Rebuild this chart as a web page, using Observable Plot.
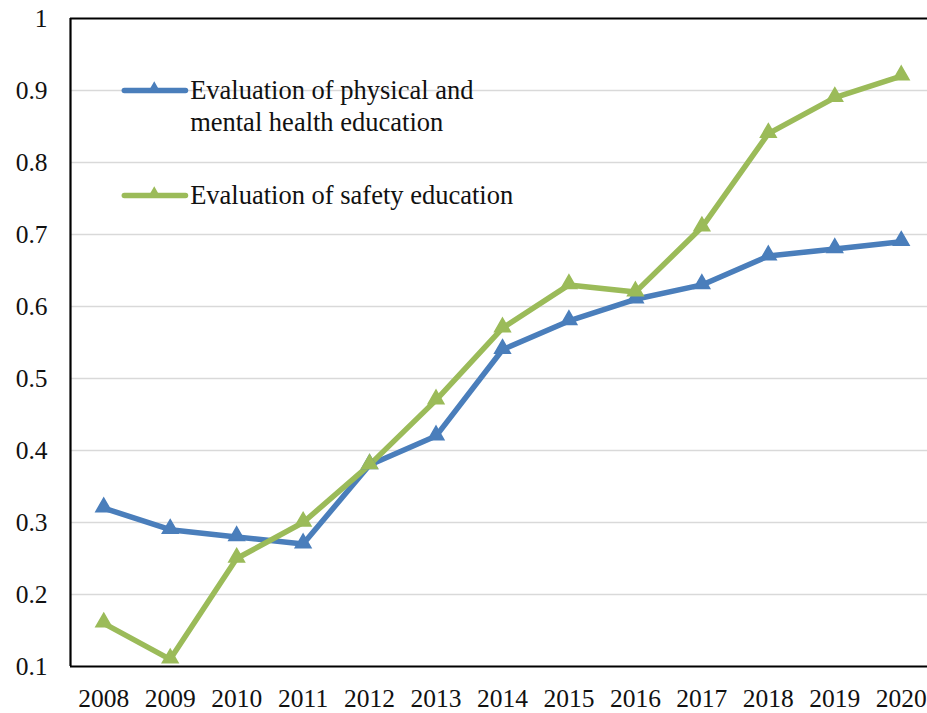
<!DOCTYPE html>
<html>
<head>
<meta charset="utf-8">
<script src="https://cdn.jsdelivr.net/npm/d3@7"></script>
<script src="https://cdn.jsdelivr.net/npm/@observablehq/plot@0.6"></script>
<style>
  html, body { margin: 0; padding: 0; background: #fff; }
  #chart svg { display: block; }
</style>
</head>
<body>
<div id="chart"></div>
<script>
// Survey years on the horizontal axis
const years = [2008, 2009, 2010, 2011, 2012, 2013, 2014, 2015, 2016, 2017, 2018, 2019, 2020];

// Evaluation scores per year
const physicalMentalHealth = [0.32, 0.29, 0.28, 0.27, 0.38, 0.42, 0.54, 0.58, 0.61, 0.63, 0.67, 0.68, 0.69];
const safetyEducation      = [0.16, 0.11, 0.25, 0.30, 0.38, 0.47, 0.57, 0.63, 0.62, 0.71, 0.84, 0.89, 0.92];

// Axis tick values
const yTicks = [0.1, 0.2, 0.3, 0.4, 0.5, 0.6, 0.7, 0.8, 0.9, 1];
const gridTicks = [0.2, 0.3, 0.4, 0.5, 0.6, 0.7, 0.8, 0.9];

// Series names and colours
const seriesNames = ["Evaluation of physical and\nmental health education", "Evaluation of safety education"];
const seriesColors = ["#4a7ebb", "#9bbb59"];

const FONT = "Liberation Serif";
const X0 = 2007.5;   // left edge of the first year band
const Y0 = 0.1;      // bottom of the value axis

const rows = [
  ...years.map((year, i) => ({series: 0, year, value: physicalMentalHealth[i]})),
  ...years.map((year, i) => ({series: 1, year, value: safetyEducation[i]}))
];

// Legend placed in the upper-left corner of the plot area (data units)
const legendY = [0.9, 0.754];
const legend = seriesNames.map((name, i) => ({
  series: i,
  x1: 2008.31, x2: 2009.23, xm: 2008.76, xt: 2009.30,
  y: legendY[i],
  lines: name.split("\n")
}));
const legendText = legend.flatMap(d => d.lines.map((t, j) => ({
  series: d.series, x: d.xt, y: d.y - j * 0.0445, text: t
})));

const chart = Plot.plot({
  width: 927,
  height: 713,
  marginLeft: 70,
  marginRight: 0,
  marginTop: 18,
  marginBottom: 47,
  style: {fontFamily: FONT, fontSize: "25px", color: "#111", background: "#fff"},
  x: {domain: [X0, 2020.395], axis: null},
  y: {domain: [Y0, 1], axis: null},
  color: {domain: [0, 1], range: seriesColors},
  marks: [
    Plot.ruleY(gridTicks, {stroke: "#d9d9d9", strokeWidth: 1.6}),
    Plot.ruleY([Y0, 1], {stroke: "#000", strokeWidth: 2.2}),
    Plot.ruleX([X0], {stroke: "#000", strokeWidth: 2.2}),
    // value-axis labels
    Plot.text(yTicks, {
      x: () => X0, y: d => d, text: d3.format("~g"), dx: -23,
      textAnchor: "end", fontSize: 25.5, fontFamily: FONT, fill: "#111"
    }),
    // year labels
    Plot.text(years, {
      x: d => d, y: () => Y0, text: d => String(d), dy: 32,
      fontSize: 25.5, fontFamily: FONT, fill: "#111"
    }),
    Plot.line(rows, {
      x: "year", y: "value", z: "series", stroke: "series",
      strokeWidth: 5.5, strokeLinejoin: "round", strokeLinecap: "round"
    }),
    Plot.dot(rows, {
      x: "year", y: "value", fill: "series", stroke: "series",
      symbol: "triangle2", r: 7.5, dy: -1
    }),
    // legend keys
    Plot.link(legend, {
      x1: "x1", x2: "x2", y1: "y", y2: "y", stroke: "series",
      strokeWidth: 5.5, strokeLinecap: "round"
    }),
    Plot.dot(legend, {
      x: "xm", y: "y", fill: "series", symbol: "triangle2", r: 6, dy: -2
    }),
    Plot.text(legendText, {
      x: "x", y: "y", text: "text", textAnchor: "start",
      fontSize: 26.5, fontFamily: FONT, fill: "#111"
    })
  ]
});

document.getElementById("chart").appendChild(chart);
</script>
</body>
</html>
